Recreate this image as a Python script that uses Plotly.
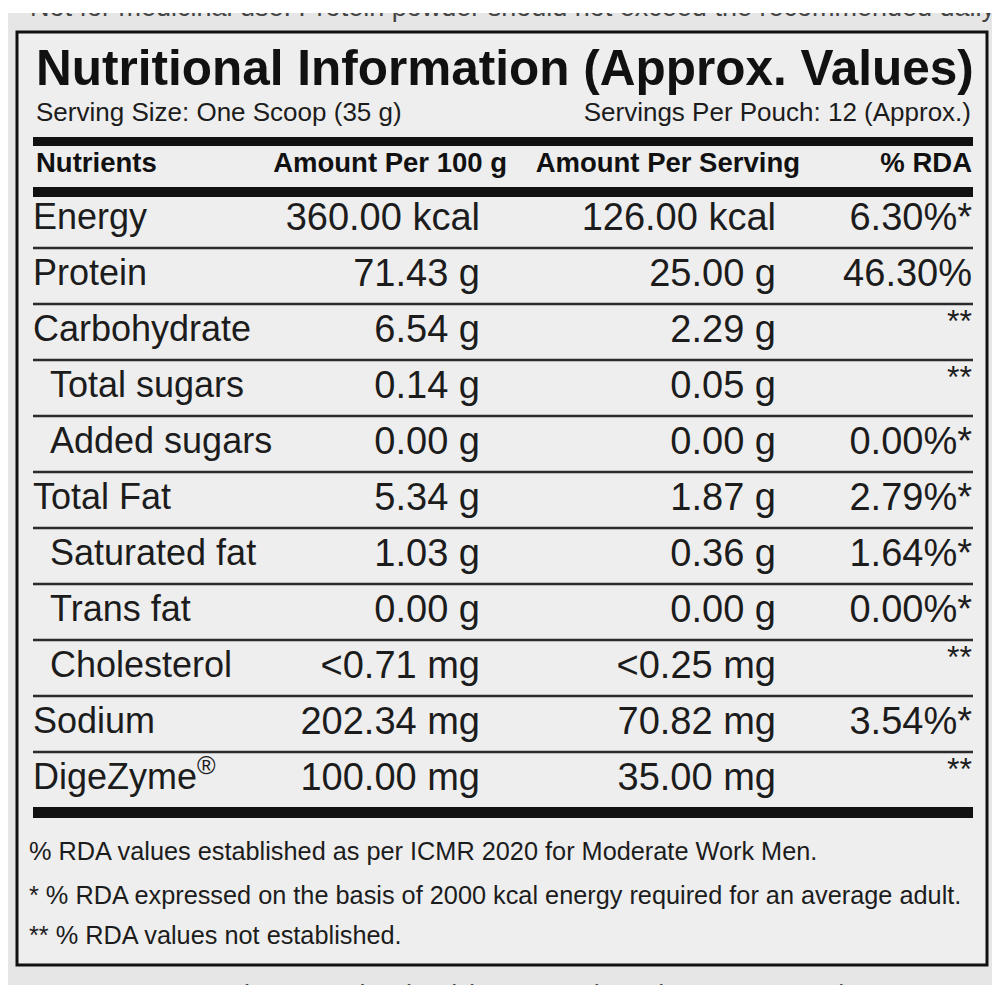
import plotly.graph_objects as go

# Contenu du tableau nutritionnel
title = "Nutritional Information (Approx. Values)"
serving_size = "Serving Size: One Scoop (35 g)"
servings_per_pouch = "Servings Per Pouch: 12 (Approx.)"
headers = ["Nutrients", "Amount Per 100 g", "Amount Per Serving", "% RDA"]

nutrients = ["Energy", "Protein", "Carbohydrate", "Total sugars", "Added sugars",
             "Total Fat", "Saturated fat", "Trans fat", "Cholesterol", "Sodium",
             "DigeZyme<sup>®</sup>"]
sub_item = [False, False, False, True, True, False, True, True, True, False, False]
per_100g = ["360.00 kcal", "71.43 g", "6.54 g", "0.14 g", "0.00 g", "5.34 g",
            "1.03 g", "0.00 g", "<0.71 mg", "202.34 mg", "100.00 mg"]
per_serving = ["126.00 kcal", "25.00 g", "2.29 g", "0.05 g", "0.00 g", "1.87 g",
               "0.36 g", "0.00 g", "<0.25 mg", "70.82 mg", "35.00 mg"]
rda = ["6.30%*", "46.30%", "**", "**", "0.00%*", "2.79%*", "1.64%*", "0.00%*",
       "**", "3.54%*", "**"]

footnotes = ["% RDA values established as per ICMR 2020 for Moderate Work Men.",
             "* % RDA expressed on the basis of 2000 kcal energy required for an average adult.",
             "** % RDA values not established."]

# Mise en page (pixels) ; la page HTML décale la figure de 8 px (marge du body)
W = H = 1000
OFF = 8
TOP_CUT, BOTTOM_CUT = 13, 985   # bandes blanches de la photo
ROW_TOP = 192
ROW_H = 56
INK = "#1c1c1c"
BODY = "Liberation Sans"

n = len(nutrients)
row_y = [ROW_TOP + ROW_H * (i + 0.5) for i in range(n)]

fig = go.Figure()

# Textes tronqués hors étiquette (haut et bas de la photo)
fig.add_trace(go.Scatter(x=[30], y=[9], mode="text", textposition="middle right",
                         text=["Not for medicinal use. Protein powder should not exceed the recommended daily usage."],
                         textfont=dict(family=BODY, size=27, color="#444"), hoverinfo="skip"))
fig.add_trace(go.Scatter(x=[25], y=[997], mode="text", textposition="middle right",
                         text=["<b>INGREDIENTS:</b> Plant Protein Blend (Pea Protein Isolate & Brown Rice Pr"],
                         textfont=dict(family=BODY, size=27, color="#444"), hoverinfo="skip"))

# Titre et sous-titres
fig.add_trace(go.Scatter(x=[36], y=[73], mode="text", textposition="middle right",
                         text=[f"<b>{title}</b>"],
                         textfont=dict(family=BODY, size=49.5, color="#111"), hoverinfo="skip"))
fig.add_trace(go.Scatter(x=[36, 971], y=[114, 114], mode="text",
                         textposition=["middle right", "middle left"],
                         text=[serving_size, servings_per_pouch],
                         textfont=dict(family=BODY, size=26, color=INK), hoverinfo="skip"))

# En-têtes de colonnes
fig.add_trace(go.Scatter(x=[36, 507, 800, 972], y=[165] * 4, mode="text",
                         textposition=["middle right", "middle left", "middle left", "middle left"],
                         text=[f"<b>{h}</b>" for h in headers],
                         textfont=dict(family=BODY, size=27.5, color="#111"), hoverinfo="skip"))

# Lignes du tableau
fig.add_trace(go.Scatter(x=[50 if s else 33 for s in sub_item], y=row_y, mode="text",
                         textposition="middle right", text=nutrients,
                         textfont=dict(family=BODY, size=36, color=INK), hoverinfo="skip"))
fig.add_trace(go.Scatter(x=[480] * n, y=row_y, mode="text", textposition="middle left",
                         text=per_100g, textfont=dict(family=BODY, size=38, color=INK),
                         hoverinfo="skip"))
fig.add_trace(go.Scatter(x=[776] * n, y=row_y, mode="text", textposition="middle left",
                         text=per_serving, textfont=dict(family=BODY, size=38, color=INK),
                         hoverinfo="skip"))
rda_main = [r if r != "**" else "" for r in rda]
rda_star = [r if r == "**" else "" for r in rda]
fig.add_trace(go.Scatter(x=[972] * n, y=row_y, mode="text", textposition="middle left",
                         text=rda_main, textfont=dict(family=BODY, size=38, color=INK),
                         hoverinfo="skip"))
fig.add_trace(go.Scatter(x=[972] * n, y=[y - 8 for y in row_y], mode="text",
                         textposition="middle left", text=rda_star,
                         textfont=dict(family=BODY, size=32, color=INK), hoverinfo="skip"))

# Notes de bas de tableau
fig.add_trace(go.Scatter(x=[29] * 3, y=[854, 898, 938], mode="text", textposition="middle right",
                         text=footnotes, textfont=dict(family=BODY, size=25.3, color=INK),
                         hoverinfo="skip"))

shapes = [
    # cadre de l'étiquette
    dict(type="rect", x0=17, x1=987, y0=32, y1=965, line=dict(color="#111", width=3),
         fillcolor="#eeeeee", layer="below"),
    # barres épaisses
    dict(type="rect", x0=33, x1=973, y0=137, y1=146, line_width=0, fillcolor="#111"),
    dict(type="rect", x0=33, x1=973, y0=187, y1=197, line_width=0, fillcolor="#111"),
    dict(type="rect", x0=33, x1=973, y0=807, y1=818, line_width=0, fillcolor="#111"),
    # bandes blanches en haut et en bas de la photo
    dict(type="rect", x0=OFF, x1=W + OFF, y0=OFF, y1=TOP_CUT, line_width=0,
         fillcolor="white", layer="above"),
    dict(type="rect", x0=OFF, x1=W + OFF, y0=BOTTOM_CUT, y1=H + OFF, line_width=0,
         fillcolor="white", layer="above"),
]
for i in range(1, n):
    y = ROW_TOP + ROW_H * i
    shapes.append(dict(type="line", x0=33, x1=973, y0=y, y1=y,
                       line=dict(color="#2a2a2a", width=2.5)))

fig.update_layout(
    width=W, height=H,
    margin=dict(l=0, r=0, t=0, b=0),
    paper_bgcolor="#e6e6e6", plot_bgcolor="#e6e6e6",
    showlegend=False,
    xaxis=dict(range=[OFF, W + OFF], visible=False, fixedrange=True),
    yaxis=dict(range=[H + OFF, OFF], visible=False, fixedrange=True),
    shapes=shapes,
)

fig.write_html("out.html")
